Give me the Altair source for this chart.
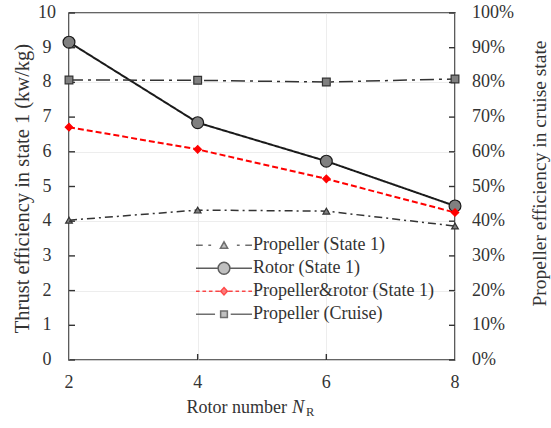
import altair as alt
import pandas as pd

# ---- data ----
rotor_number = [2, 4, 6, 8]
propeller_state1 = [4.03, 4.32, 4.29, 3.86]
rotor_state1 = [9.16, 6.84, 5.73, 4.44]
prop_rotor_state1 = [6.71, 6.07, 5.22, 4.25]
propeller_cruise = [0.807, 0.806, 0.801, 0.810]

series_names = ["Propeller (State 1)", "Rotor (State 1)",
                "Propeller&rotor (State 1)", "Propeller (Cruise)"]
left_ticks = list(range(0, 11))
right_ticks = [i / 10 for i in range(11)]
x_ticks = [2, 4, 6, 8]
x_inner_ticks = [4, 6]

W, H = 386, 347
FONT = "Liberation Serif"
TXT = "#333333"
LBL = 18

xscale = alt.Scale(domain=[2, 8], nice=False)
yscale = alt.Scale(domain=[0, 10], nice=False)
y2scale = alt.Scale(domain=[0, 1], nice=False)


def df_for(vals):
    return pd.DataFrame({"x": rotor_number, "y": vals})


x_axis = alt.Axis(values=x_ticks, title=None, ticks=False, domain=False,
                  grid=True, labels=False)
y_axis = alt.Axis(values=left_ticks, title="Thrust  efficiency in state 1 (kw/kg)",
                  ticks=False, domain=False, grid=True, labels=False,
                  titleFontSize=20.5, titleAngle=270, titleX=-47, titleY=175,
                  titleAlign="center", titleBaseline="middle")

styles = {
    "Propeller (State 1)": dict(color="#333333", dash=[8, 4, 2, 4], width=1.5,
                                shape="triangle-up", size=45, fill="#808080"),
    "Rotor (State 1)": dict(color="#1a1a1a", dash=[1, 0], width=2,
                            shape="circle", size=140, fill="#808080"),
    "Propeller&rotor (State 1)": dict(color="#ff0000", dash=[6, 3], width=2,
                                      shape="diamond", size=55, fill="#ff0000"),
    "Propeller (Cruise)": dict(color="#333333", dash=[14, 5, 3, 5], width=1.5,
                               shape="square", size=60, fill="#808080"),
}

left_layers = []
first = True
for name, vals in [("Propeller (State 1)", propeller_state1),
                   ("Rotor (State 1)", rotor_state1),
                   ("Propeller&rotor (State 1)", prop_rotor_state1)]:
    s = styles[name]
    base = alt.Chart(df_for(vals))
    if first:
        enc = dict(x=alt.X("x:Q", scale=xscale, axis=x_axis),
                   y=alt.Y("y:Q", scale=yscale, axis=y_axis))
        first = False
    else:
        enc = dict(x=alt.X("x:Q", scale=xscale), y=alt.Y("y:Q", scale=yscale))
    left_layers.append(base.mark_line(color=s["color"], strokeDash=s["dash"],
                                      strokeWidth=s["width"]).encode(**enc))
    left_layers.append(base.mark_point(shape=s["shape"], size=s["size"], filled=True,
                                       fill=s["fill"], stroke=s["color"],
                                       strokeWidth=1.2, opacity=1).encode(
        x=alt.X("x:Q", scale=xscale), y=alt.Y("y:Q", scale=yscale)))

# inward tick marks
tick_df = pd.DataFrame({"y": left_ticks})
left_layers.append(alt.Chart(tick_df).mark_tick(
    color="#333333", size=6, thickness=1.4, orient="horizontal", opacity=1).encode(
    y=alt.Y("y:Q", scale=yscale), x=alt.value(3)))
left_layers.append(alt.Chart(tick_df).mark_tick(
    color="#333333", size=6, thickness=1.4, orient="horizontal", opacity=1).encode(
    y=alt.Y("y:Q", scale=yscale), x=alt.value(W - 3)))
xt_df = pd.DataFrame({"x": x_inner_ticks})
left_layers.append(alt.Chart(xt_df).mark_tick(
    color="#333333", size=6, thickness=1.4, orient="vertical", opacity=1).encode(
    x=alt.X("x:Q", scale=xscale), y=alt.value(H - 3)))

# tick labels as text
left_layers.append(alt.Chart(tick_df).mark_text(
    font=FONT, fontSize=LBL, color=TXT, align="center", baseline="middle").encode(
    y=alt.Y("y:Q", scale=yscale), x=alt.value(-22), text=alt.Text("y:Q", format="d")))
xl_df = pd.DataFrame({"x": x_ticks})
left_layers.append(alt.Chart(xl_df).mark_text(
    font=FONT, fontSize=LBL, color=TXT, align="center", baseline="middle").encode(
    x=alt.X("x:Q", scale=xscale), y=alt.value(H + 23), text=alt.Text("x:Q", format="d")))

# legend (symbols drawn as custom paths: line pieces + marker)
legend_paths = [
    "M-1,0H-0.76M-0.56,0H-0.46M-0.13,0.11L0,-0.12L0.13,0.11ZM0.46,0H0.56M0.76,0H1",
    "M-1,0H-0.21M0.21,0A0.21,0.21 0 1,0 -0.21,0A0.21,0.21 0 1,0 0.21,0ZM0.21,0H1",
    "M-1,0H-0.87M-0.77,0H-0.64M-0.54,0H-0.41M-0.31,0H-0.15M0,-0.13L0.12,0L0,0.13L-0.12,0Z"
    "M0.15,0H0.31M0.41,0H0.54M0.64,0H0.77M0.87,0H1",
    "M-1,0H-0.32M-0.12,-0.12H0.12V0.12H-0.12ZM0.24,0H1",
]
legend_strokes = ["#333333", "#1a1a1a", "#ff0000", "#333333"]
legend_fills = ["#808080", "#808080", "#ff0000", "#808080"]
legend_df = pd.DataFrame({"series": series_names})
leg = alt.Legend(orient="none", legendX=126, legendY=221, title=None,
                 symbolSize=3136, symbolStrokeWidth=1.5, labelOffset=0,
                 padding=0, clipHeight=22.5, rowPadding=0,
                 labelFont=FONT, labelFontSize=18, labelLimit=0, labelColor=TXT)
left_layers.append(alt.Chart(legend_df).mark_point(size=3136, filled=False).encode(
    shape=alt.Shape("series:N", scale=alt.Scale(domain=series_names, range=legend_paths),
                    legend=leg),
    stroke=alt.Stroke("series:N", scale=alt.Scale(domain=series_names, range=legend_strokes),
                      legend=leg),
    fill=alt.Fill("series:N", scale=alt.Scale(domain=series_names, range=legend_fills),
                  legend=leg),
).transform_filter("false"))

# x-axis title as text pieces (italic N with subscript R)
left_layers.append(alt.Chart(pd.DataFrame({"t": ["Rotor number"]})).mark_text(
    font=FONT, fontSize=18, color=TXT, align="right", baseline="alphabetic").encode(
    text="t:N", x=alt.value(218), y=alt.value(400)))
left_layers.append(alt.Chart(pd.DataFrame({"t": ["N"]})).mark_text(
    font=FONT, fontSize=18.5, fontStyle="italic", color=TXT, align="left",
    baseline="alphabetic").encode(text="t:N", x=alt.value(223), y=alt.value(400)))
left_layers.append(alt.Chart(pd.DataFrame({"t": ["R"]})).mark_text(
    font=FONT, fontSize=12.5, color=TXT, align="left",
    baseline="alphabetic").encode(text="t:N", x=alt.value(237), y=alt.value(403)))

left = alt.layer(*left_layers)

# right axis: cruise efficiency
sc = styles["Propeller (Cruise)"]
y2_axis = alt.Axis(orient="right", values=right_ticks,
                   title="Propeller efficiency in cruise state", ticks=False,
                   domain=False, grid=False, labels=False, titleFontSize=19.5,
                   titleAngle=270, titleX=84, titleY=160,
                   titleAlign="center", titleBaseline="middle")
cbase = alt.Chart(df_for(propeller_cruise))
rt_df = pd.DataFrame({"y": right_ticks})
right = alt.layer(
    cbase.mark_line(color=sc["color"], strokeDash=sc["dash"], strokeWidth=sc["width"]).encode(
        x=alt.X("x:Q", scale=xscale), y=alt.Y("y:Q", scale=y2scale, axis=y2_axis)),
    cbase.mark_point(shape=sc["shape"], size=sc["size"], filled=True, fill=sc["fill"],
                     stroke=sc["color"], strokeWidth=1.2, opacity=1).encode(
        x=alt.X("x:Q", scale=xscale), y=alt.Y("y:Q", scale=y2scale)),
    alt.Chart(rt_df).mark_text(font=FONT, fontSize=LBL, color=TXT, align="left",
                               baseline="middle").encode(
        y=alt.Y("y:Q", scale=y2scale), x=alt.value(W + 17),
        text=alt.Text("y:Q", format=".0%")),
)

chart = alt.layer(left, right).resolve_scale(y="independent").properties(
    width=W, height=H,
    autosize=alt.AutoSizeParams(type="none"),
    padding={"left": 69, "top": 13, "right": 96, "bottom": 68},
    background="white",
).configure_view(stroke="#333333", strokeWidth=1.6).configure_axis(
    titleFont=FONT, titleFontWeight="normal", titleColor=TXT,
    gridColor="#e8e8e8", gridWidth=0.8,
)

chart.save("out.html", embed_options={"renderer": "svg", "actions": False})
